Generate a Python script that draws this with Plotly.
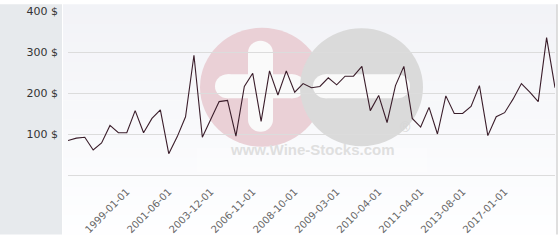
import plotly.graph_objects as go

# ---- data ----
values = [84, 90, 92, 61, 78, 121, 103, 103, 157, 103,
          138, 159, 52, 93, 142, 292, 92, 135, 179, 182,
          95, 216, 248, 131, 254, 195, 254, 202, 223, 213,
          216, 237, 220, 241, 241, 265, 157, 194, 128, 218,
          265, 138, 117, 165, 100, 193, 150, 150, 167, 218,
          96, 142, 152, 185, 223, 202, 179, 335, 213]
tick_positions = [7, 12, 17, 22, 27, 32, 37, 42, 47, 52]
tick_labels = ["1999-01-01", "2001-06-01", "2003-12-01", "2006-11-01", "2008-10-01",
               "2009-03-01", "2010-04-01", "2011-04-01", "2013-08-01", "2017-01-01"]
y_ticks = [0, 100, 200, 300, 400]
y_tick_labels = ["", "100 $", "200 $", "300 $", "400 $"]
x = list(range(len(values)))

# ---- layout geometry (pixels) ----
L, R, T, B = 68, 555, 7, 178
PW, PH = R - L, B - T


def px(v):
    return (v - L) / PW


def py(v):
    return (B - v) / PH


shapes = []
# background gradient
n = 24
c0 = (242, 243, 247)
c1 = (254, 254, 255)
for k in range(n):
    f = k / (n - 1)
    col = "rgb(%d,%d,%d)" % tuple(round(c0[i] + (c1[i] - c0[i]) * f) for i in range(3))
    shapes.append(dict(type="rect", xref="paper", yref="paper", layer="below",
                       x0=px(63), x1=px(557), y0=py(k * 10), y1=py(k * 10 + 10.5),
                       fillcolor=col, line=dict(width=0)))
# left panel
shapes.append(dict(type="rect", xref="paper", yref="paper", layer="below",
                   x0=px(0), x1=px(62), y0=py(0), y1=py(240),
                   fillcolor="#e7eaed", line=dict(width=0)))
# right border
shapes.append(dict(type="line", xref="paper", yref="paper", layer="below",
                   x0=px(557), x1=px(557), y0=py(0), y1=py(240),
                   line=dict(color="#d4d4d4", width=1.5)))


# watermark
def circle(cx, cy, r, color):
    return dict(type="circle", xref="paper", yref="paper", layer="below",
                x0=px(cx - r), x1=px(cx + r), y0=py(cy + r), y1=py(cy - r),
                fillcolor=color, line=dict(width=0))


def rect(x0, y0, x1, y1, color, opacity=1):
    return dict(type="rect", xref="paper", yref="paper", layer="below", opacity=opacity,
                x0=px(x0), x1=px(x1), y0=py(y1), y1=py(y0),
                fillcolor=color, line=dict(width=0))


def hbar(x0, x1, y0, y1, color):
    r = (y1 - y0) / 2
    return [rect(x0 + r, y0, x1 - r, y1, color),
            circle(x0 + r, y0 + r, r, color), circle(x1 - r, y0 + r, r, color)]


def vbar(x0, x1, y0, y1, color):
    r = (x1 - x0) / 2
    return [rect(x0, y0 + r, x1, y1 - r, color),
            circle(x0 + r, y0 + r, r, color), circle(x0 + r, y1 - r, r, color)]


WM_WHITE = "#fafafa"
shapes.append(rect(197, 150, 427, 175, "white", 0.25))
shapes.append(circle(262, 86.5, 62, "#ead0d6"))
shapes += hbar(215, 305, 73, 98, WM_WHITE)
shapes += vbar(248, 273, 38, 133, WM_WHITE)
shapes.append(circle(361.5, 86.5, 61.5, "#dadada"))
shapes += hbar(313, 410, 73, 98, WM_WHITE)

annotations = [
    dict(text="<b>www.Wine-Stocks.com</b>", xref="paper", yref="paper",
         x=px(312), y=py(162), showarrow=False,
         font=dict(family="Liberation Sans", size=15, color="#dfdfdf")),
    dict(text="®", xref="paper", yref="paper", x=px(413), y=py(138), showarrow=False,
         font=dict(family="Liberation Sans", size=14, color="#d6d6d6")),
]

fig = go.Figure()
fig.add_trace(go.Scatter(x=x, y=values, mode="lines",
                         line=dict(color="#3a1d2a", width=1.1),
                         hoverinfo="skip"))
fig.update_layout(
    width=560, height=240,
    margin=dict(l=L, r=560 - R, t=T, b=240 - B),
    paper_bgcolor="white",
    plot_bgcolor="rgba(0,0,0,0)",
    showlegend=False,
    shapes=shapes,
    annotations=annotations,
    font=dict(family="DejaVu Sans"),
)
fig.update_xaxes(range=[0, len(values) - 1], tickmode="array",
                 tickvals=tick_positions, ticktext=tick_labels, tickangle=-45,
                 showgrid=False, zeroline=False, showline=False,
                 tickfont=dict(size=10, color="#666666"), ticklabelstandoff=8)
fig.update_yaxes(range=[0, 400], tickmode="array", tickvals=y_ticks,
                 ticktext=y_tick_labels, showgrid=True, gridcolor="#dcdcdc",
                 gridwidth=1, zeroline=True, zerolinecolor="#dcdcdc", zerolinewidth=1,
                 showline=False,
                 tickfont=dict(size=11, color="#333333"), ticklabelstandoff=9)
fig.write_html("out.html")
